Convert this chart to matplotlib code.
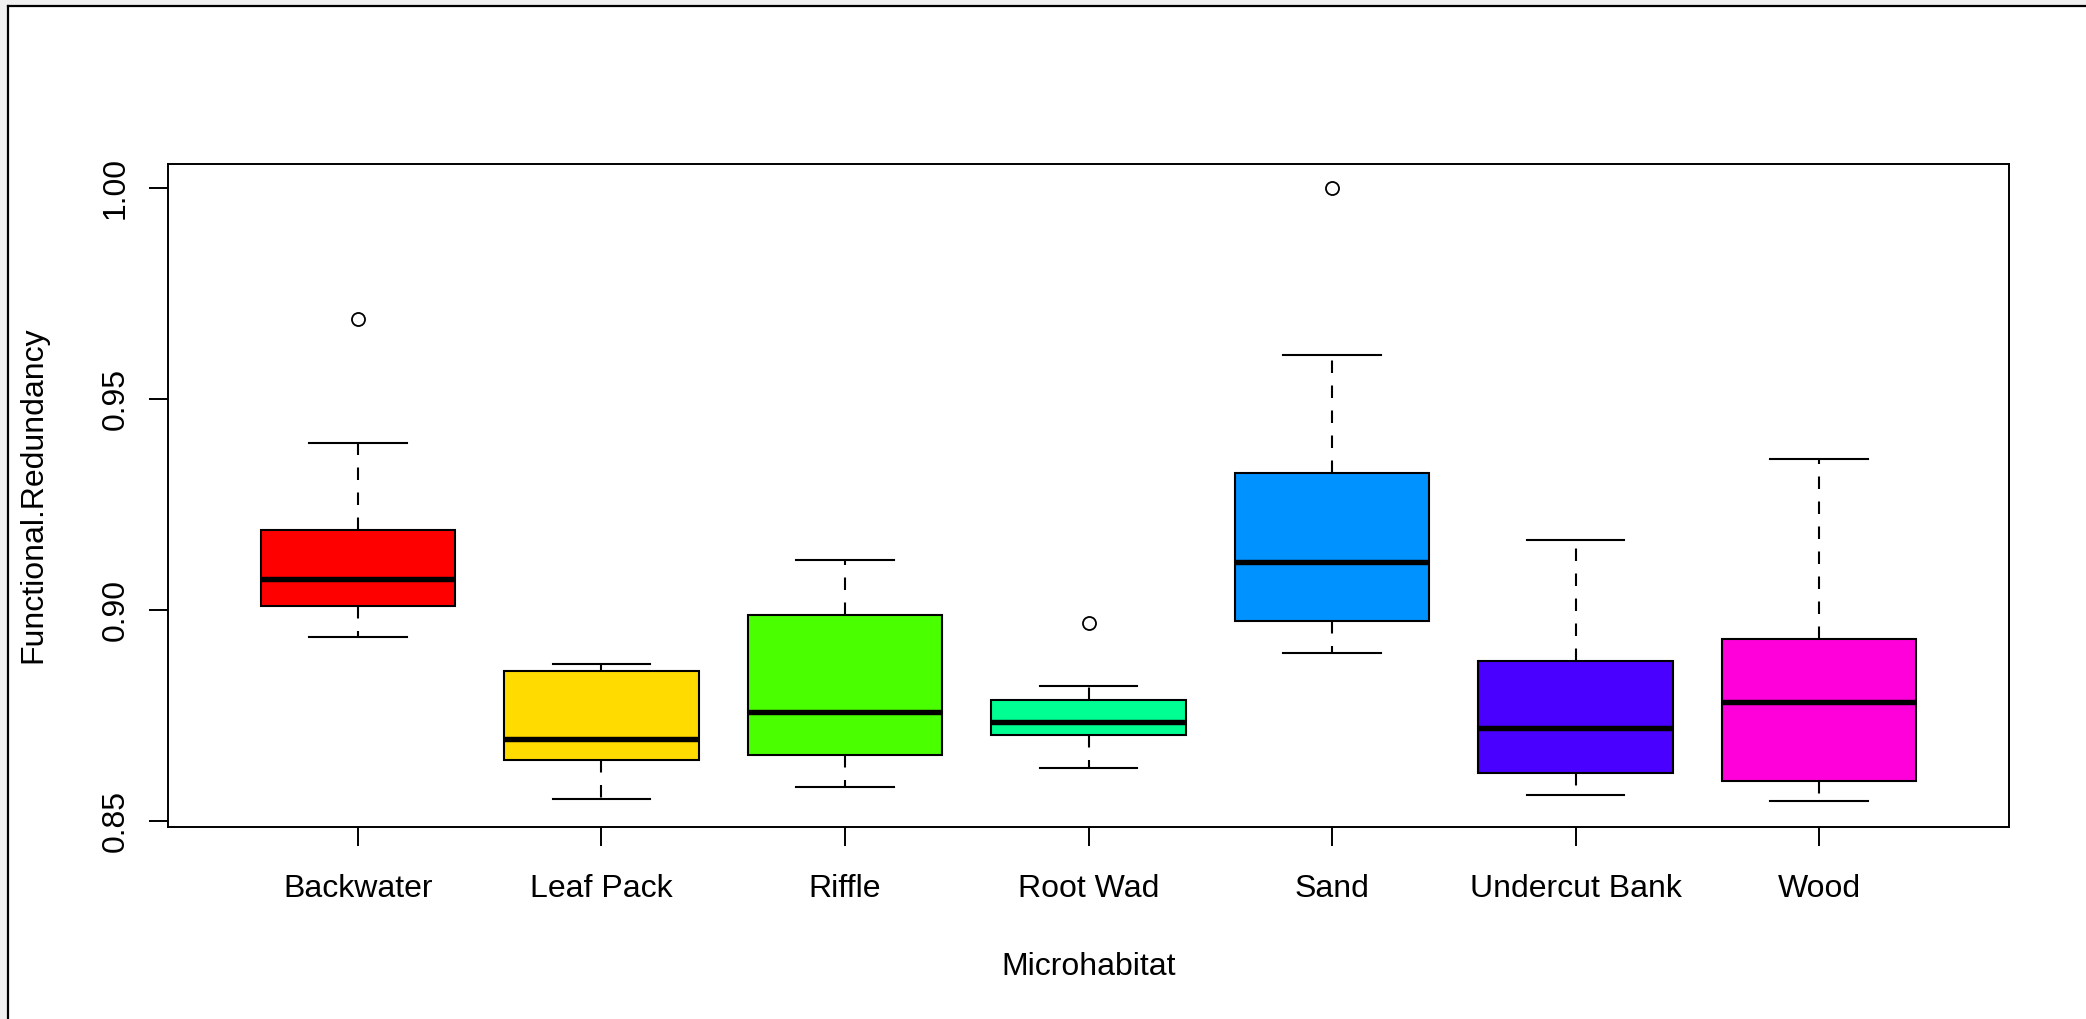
import numpy as np
import matplotlib.pyplot as plt
from matplotlib.patches import Rectangle
from matplotlib.lines import Line2D

plt.rcParams['font.family'] = ['Liberation Sans', 'DejaVu Sans']

habitats = ["Backwater", "Leaf Pack", "Riffle", "Root Wad", "Sand", "Undercut Bank", "Wood"]
whislo = [0.8935, 0.8552, 0.8581, 0.8624, 0.8897, 0.8562, 0.8548]
q1 = [0.9010, 0.8643, 0.8656, 0.8704, 0.8973, 0.8613, 0.8594]
med = [0.9073, 0.8694, 0.8758, 0.8734, 0.9113, 0.8719, 0.8781]
q3 = [0.9189, 0.8854, 0.8988, 0.8787, 0.9324, 0.8879, 0.8931]
whishi = [0.9394, 0.8872, 0.9118, 0.8820, 0.9604, 0.9165, 0.9357]
outliers = [[0.9690], [], [], [0.8968], [1.000], [], []]
# R rainbow(7)
colors = ["#FF0000", "#FFDB00", "#49FF00", "#00FF92", "#0092FF", "#4900FF", "#FF00DB"]

W, H = 2086, 1019
fig = plt.figure(figsize=(W/100, H/100), dpi=100)
ax = fig.add_axes([168/W, 1-826.7/H, (2009-168)/W, (826.7-163.6)/H])

stats = []
for i in range(len(habitats)):
    stats.append(dict(label=habitats[i], whislo=whislo[i], q1=q1[i], med=med[i],
                      q3=q3[i], whishi=whishi[i], fliers=outliers[i]))

pos = np.arange(1, len(habitats)+1)
bp = ax.bxp(stats, positions=pos, widths=0.8, capwidths=0.4, patch_artist=True,
            boxprops=dict(edgecolor="black", linewidth=1.5),
            medianprops=dict(color="black", linewidth=3.9, solid_capstyle="butt"),
            whiskerprops=dict(color="black", linewidth=1.5, linestyle=(0, (6, 6))),
            capprops=dict(color="black", linewidth=1.5),
            flierprops=dict(marker="o", markerfacecolor="none", markeredgecolor="black",
                            markersize=9.4, markeredgewidth=1.3))
for patch, c in zip(bp["boxes"], colors):
    patch.set_facecolor(c)

ax.set_xlim(0.22, 7.78)
ax.set_ylim(0.8486, 1.0057)
ax.set_yticks([0.85, 0.90, 0.95, 1.00])
ax.set_yticklabels(["0.85", "0.90", "0.95", "1.00"], rotation=90, va="center")
ax.set_xticks(pos)
ax.set_xticklabels(habitats)
ax.tick_params(axis="both", labelsize=23, length=13.7, width=1.4, color="black")
ax.tick_params(axis="x", pad=20)
ax.tick_params(axis="y", pad=13)
for s in ax.spines.values():
    s.set_linewidth(1.4)

ax.set_xlabel("Microhabitat", fontsize=23)
ax.xaxis.set_label_coords(0.5, -0.2116)
ax.xaxis.label.set_va("center")
ax.set_ylabel("Functional.Redundancy", fontsize=23)
ax.yaxis.set_label_coords(-0.0733, 0.5)
ax.yaxis.label.set_va("center")

# screenshot frame: grey margin with black edge on left and top
fig.patches.append(Rectangle((0, 0), 7/W, 1, transform=fig.transFigure, color="#f0f0f0", zorder=0))
fig.patches.append(Rectangle((0, 1-4.5/H), 1, 4.5/H, transform=fig.transFigure, color="#f0f0f0", zorder=0))
fig.lines.append(Line2D([8/W, 8/W], [0, 1-5.5/H], transform=fig.transFigure, color="black", linewidth=1.6))
fig.lines.append(Line2D([8/W, 1], [1-5.5/H, 1-5.5/H], transform=fig.transFigure, color="black", linewidth=1.6))

fig.savefig("out.png", dpi=100)
